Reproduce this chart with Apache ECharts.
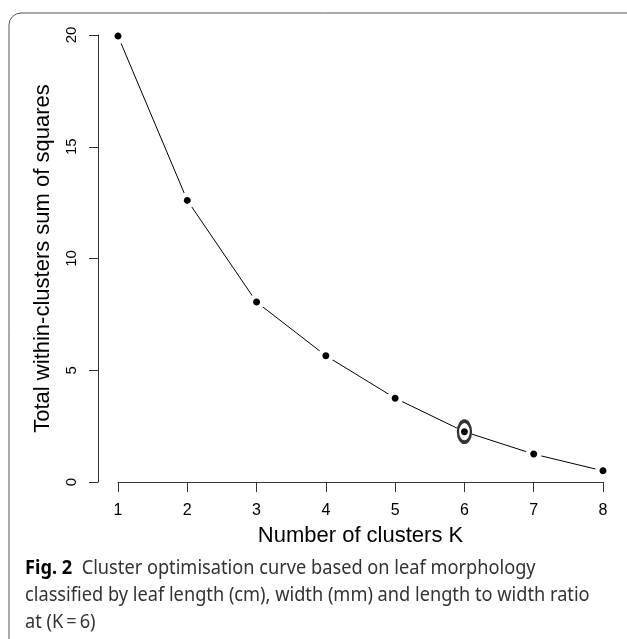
<!DOCTYPE html>
<html>
<head>
<meta charset="utf-8">
<script src="https://cdn.jsdelivr.net/npm/echarts@6/dist/echarts.min.js"></script>
<style>
  html, body { margin: 0; padding: 0; background: #fff; }
  #chart { width: 627px; height: 639px; }
</style>
</head>
<body>
<div id="chart"></div>
<script>
// number of clusters and total within-cluster sum of squares
var clusterK = [1, 2, 3, 4, 5, 6, 7, 8]
var withinSS = [19.95, 12.6, 8.05, 5.65, 3.75, 2.25, 1.25, 0.5]
var chosenK = 6
var yTicks = [0, 5, 10, 15, 20]

var captionBold = 'Fig. 2'
var captionLines = [
  'Cluster optimisation curve based on leaf morphology',
  'classified by leaf length (cm), width (mm) and length to width ratio',
  'at (K\u2009=\u20096)'
]

function drawElbowChart(dom) {
  var chart = echarts.init(dom, null, { renderer: 'canvas' })
  chart.setOption(getOptions())
}

function getPoints() {
  return clusterK.map(function(k, i) {
    return [k, withinSS[i]]
  })
}

function getChosenPoint() {
  var i = clusterK.indexOf(chosenK)
  return [[clusterK[i], withinSS[i]]]
}

function getOptions() {
  var axisFont = 'Liberation Sans, Arial, sans-serif'
  var captionText = '{b|' + captionBold + '}  ' + captionLines.join('\n')

  return {
    animation: false,
    backgroundColor: '#fff',
    grid: {
      left: 118,
      right: 24,
      top: 35,
      bottom: 157
    },
    xAxis: {
      type: 'value',
      min: 1,
      max: 8,
      interval: 1,
      offset: 6,
      name: 'Number of clusters K',
      nameLocation: 'middle',
      nameGap: 37,
      nameTextStyle: { fontFamily: axisFont, fontSize: 22, color: '#000' },
      axisLine: { show: true, lineStyle: { color: '#333', width: 1 } },
      axisTick: { show: true, length: 10, lineStyle: { color: '#333' } },
      axisLabel: { fontFamily: axisFont, fontSize: 16, color: '#000', margin: 15 },
      splitLine: { show: false }
    },
    yAxis: {
      type: 'value',
      min: yTicks[0],
      max: yTicks[yTicks.length - 1],
      interval: 5,
      offset: 20,
      name: 'Total within-clusters sum of squares',
      nameLocation: 'middle',
      nameRotate: 90,
      nameGap: 44,
      nameTextStyle: { fontFamily: axisFont, fontSize: 22, color: '#000' },
      axisLine: { show: true, lineStyle: { color: '#333', width: 1 } },
      axisTick: { show: true, length: 9, lineStyle: { color: '#333' } },
      axisLabel: { fontFamily: axisFont, fontSize: 15, color: '#000', rotate: 90, margin: 19 },
      splitLine: { show: false }
    },
    graphic: [
      {
        type: 'rect',
        shape: { x: 9, y: 13, width: 660, height: 660, r: 12 },
        style: { fill: 'none', stroke: '#555', lineWidth: 1 },
        silent: true
      },
      {
        type: 'text',
        x: 25,
        y: 555,
        scaleX: 0.91,
        style: {
          text: captionText,
          fontFamily: 'Noto Sans, Open Sans, sans-serif',
          fontSize: 20,
          lineHeight: 27,
          fill: '#333',
          rich: {
            b: { fontWeight: 'bold', fontSize: 20, fill: '#000', fontFamily: 'Noto Sans, sans-serif' }
          }
        }
      }
    ],
    series: [
      {
        type: 'line',
        data: getPoints(),
        clip: false,
        symbol: 'circle',
        symbolSize: 11.5,
        lineStyle: { color: '#000', width: 1 },
        itemStyle: { color: '#000', borderColor: '#fff', borderWidth: 4.5 },
        emphasis: { disabled: true },
        z: 2
      },
      {
        // ring around the chosen K
        type: 'scatter',
        data: getChosenPoint(),
        clip: false,
        symbol: 'circle',
        symbolSize: [13, 21],
        itemStyle: { color: 'rgba(0,0,0,0)', borderColor: '#000', borderWidth: 3 },
        emphasis: { disabled: true },
        z: 3
      }
    ]
  }
}

drawElbowChart(document.getElementById('chart'))
</script>
</body>
</html>
